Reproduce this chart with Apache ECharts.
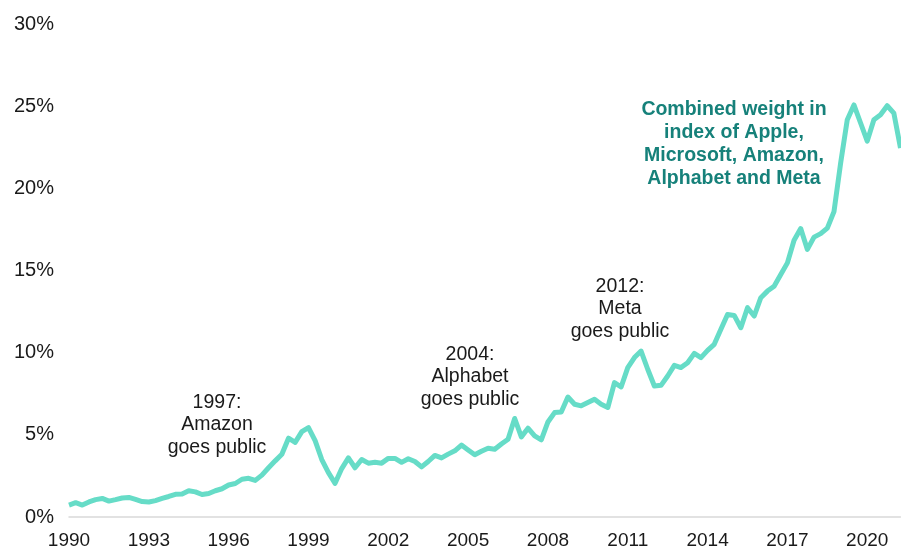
<!DOCTYPE html>
<html>
<head>
<meta charset="UTF-8">
<title>Combined weight</title>
<script type="text/javascript" src="https://cdn.jsdelivr.net/npm/echarts@6/dist/echarts.min.js"></script>
<style>
	html, body { margin: 0; padding: 0; background: #fff; }
	#main { width: 901px; height: 550px; }
</style>
</head>
<body>
	<div id="main"></div>
	<script type="text/javascript">
		// quarterly, 1990 Q1 onwards
		var startYear = 1990;
		var weights = [
			0.73, 0.87, 0.73, 0.92, 1.06, 1.13, 0.97, 1.06, 1.16, 1.19,
			1.07, 0.94, 0.91, 1.00, 1.13, 1.25, 1.38, 1.40, 1.60, 1.53,
			1.37, 1.43, 1.60, 1.72, 1.95, 2.04, 2.30, 2.36, 2.23, 2.55,
			3.00, 3.42, 3.82, 4.80, 4.55, 5.20, 5.45, 4.65, 3.50, 2.70,
			2.05, 2.95, 3.60, 3.00, 3.50, 3.28, 3.33, 3.28, 3.57, 3.57,
			3.33, 3.55, 3.38, 3.05, 3.38, 3.75, 3.60, 3.83, 4.03, 4.38,
			4.08, 3.79, 4.00, 4.19, 4.13, 4.45, 4.74, 6.00, 4.88, 5.41,
			4.94, 4.70, 5.79, 6.36, 6.40, 7.31, 6.87, 6.77, 6.97, 7.17,
			6.87, 6.67, 8.19, 7.92, 9.10, 9.71, 10.11, 9.00, 7.98, 8.02,
			8.59, 9.24, 9.10, 9.40, 9.97, 9.71, 10.15, 10.52, 11.43, 12.34,
			12.28, 11.53, 12.75, 12.24, 13.36, 13.76, 14.06, 14.77, 15.48, 16.86,
			17.57, 16.30, 17.05, 17.26, 17.60, 18.60, 21.56, 24.20, 25.10, 24.00,
			22.90, 24.20, 24.50, 25.05, 24.60, 22.47
		];
		var yTicks = [0, 5, 10, 15, 20, 25, 30];
		var notes = [
			{ text: '1997:\nAmazon\ngoes public', x: 217, y: 425 },
			{ text: '2004:\nAlphabet\ngoes public', x: 470, y: 377 },
			{ text: '2012:\nMeta\ngoes public', x: 620, y: 309 }
		];
		var seriesNote = 'Combined weight in\nindex of Apple,\nMicrosoft, Amazon,\nAlphabet and Meta';

		var quarters = [];
		for (var i = 0; i < weights.length; i++) {
			quarters.push((startYear + Math.floor(i / 4)) + ' Q' + (i % 4 + 1));
		}

		var myChart = echarts.init(document.getElementById('main'));

		var graphics = notes.map(function (n) {
			return {
				type: 'text',
				x: n.x,
				y: n.y,
				style: {
					text: n.text,
					fill: '#1a1a1a',
					font: '19.5px "Liberation Sans", Arial, sans-serif',
					align: 'center',
					verticalAlign: 'middle',
					lineHeight: 22.5
				}
			};
		});
		graphics.push({
			type: 'text',
			x: 734,
			y: 144,
			style: {
				text: seriesNote,
				fill: '#16817a',
				font: 'bold 19.5px "Liberation Sans", Arial, sans-serif',
				align: 'center',
				verticalAlign: 'middle',
				lineHeight: 23
			}
		});

		option = {
			backgroundColor: '#ffffff',
			animation: false,
			grid: { left: 69, right: 0.5, top: 24.5, bottom: 32 },
			xAxis: {
				type: 'category',
				boundaryGap: false,
				data: quarters,
				axisLine: { lineStyle: { color: '#d9d9d9', width: 1.5 } },
				axisTick: { show: false },
				axisLabel: {
					interval: 11,
					margin: 14,
					color: '#1a1a1a',
					fontSize: 19,
					fontFamily: '"Liberation Sans", Arial, sans-serif',
					formatter: function (v) { return v.slice(0, 4); }
				},
				splitLine: { show: false }
			},
			yAxis: {
				type: 'value',
				min: yTicks[0],
				max: yTicks[yTicks.length - 1],
				interval: 5,
				axisLine: { show: false },
				axisTick: { show: false },
				splitLine: { show: false },
				axisLabel: {
					margin: 15,
					color: '#1a1a1a',
					fontSize: 20,
					fontFamily: '"Liberation Sans", Arial, sans-serif',
					formatter: '{value}%'
				}
			},
			graphic: graphics,
			series: [
				{
					name: 'Combined weight',
					type: 'line',
					data: weights,
					showSymbol: false,
					lineStyle: { color: '#66dcc7', width: 5, join: 'round' },
					itemStyle: { color: '#66dcc7' }
				}
			]
		};

		myChart.setOption(option);
	</script>
</body>
</html>
